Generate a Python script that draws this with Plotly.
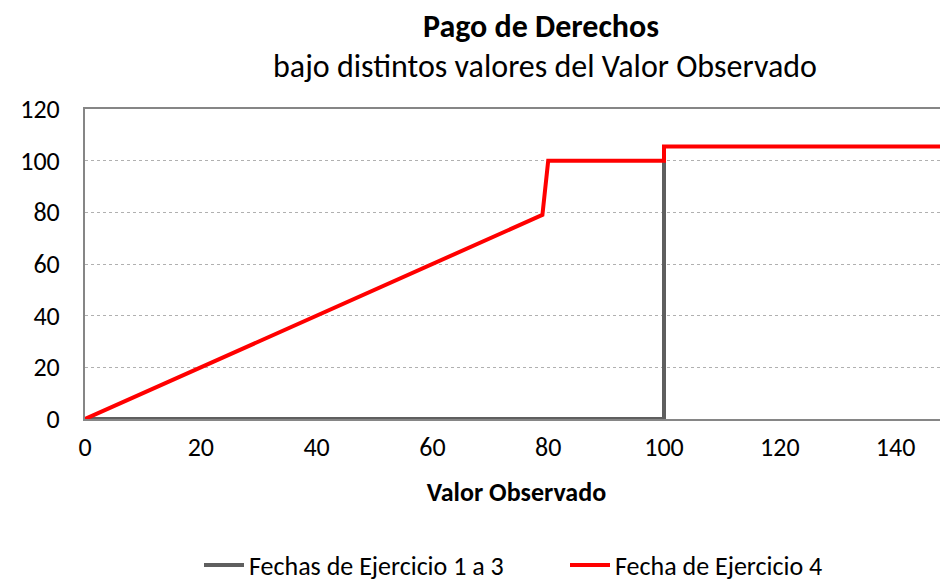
import plotly.graph_objects as go

# Data
gray_x = [0, 100, 100]
gray_y = [0, 0, 100]
red_x = [0, 79, 80, 100, 100, 150]
red_y = [0, 79, 100, 100, 105.5, 105.5]
series_names = ["Fechas de Ejercicio 1 a 3", "Fecha de Ejercicio 4"]
x_ticks = [0, 20, 40, 60, 80, 100, 120, 140]
y_ticks = [0, 20, 40, 60, 80, 100, 120]

FONT = "Carlito, Calibri, Lato, sans-serif"

W, H = 940, 573
L, T = 77, 101
PB = 411  # plot bottom in figure px
PH = PB - T
PW = W - L

fig = go.Figure()
fig.add_trace(go.Scatter(x=gray_x, y=gray_y, mode="lines", name=series_names[0],
                         line=dict(color="#5f5f5f", width=4)))
fig.add_trace(go.Scatter(x=red_x, y=red_y, mode="lines", name=series_names[1],
                         line=dict(color="#ff0000", width=4)))

fig.update_layout(
    width=W, height=H,
    margin=dict(l=L, r=0, t=T, b=H - PB, pad=0, autoexpand=False),
    paper_bgcolor="white", plot_bgcolor="white",
    font=dict(family=FONT, color="#000000"),
    showlegend=True,
    legend=dict(orientation="h", x=(191 - L) / PW, xanchor="left",
                y=(PB - 557) / PH, yanchor="middle",
                font=dict(size=26, family=FONT), itemwidth=40,
                entrywidth=311),
    annotations=[
        dict(text="<b>Pago de Derechos</b>", xref="paper", yref="paper",
             x=(533 - L) / PW, y=1.0 + (T - 19) / PH, xanchor="center", yanchor="middle",
             showarrow=False, font=dict(size=32, family=FONT)),
        dict(text="bajo distintos valores del Valor Observado", xref="paper", yref="paper",
             x=(537 - L) / PW, y=1.0 + (T - 58) / PH, xanchor="center", yanchor="middle",
             showarrow=False, font=dict(size=32, family=FONT)),
    ],
)
fig.update_xaxes(range=[0, 149.05], tickvals=x_ticks, showgrid=False,
                 showline=True, linecolor="#868686", linewidth=2, mirror=True,
                 ticks="", tickfont=dict(size=26, family=FONT), ticklabelstandoff=4,
                 zeroline=False,
                 title=dict(text="<b>Valor Observado</b>", font=dict(size=26, family=FONT), standoff=21))
fig.update_yaxes(range=[0, 120], tickvals=y_ticks, showgrid=True, gridcolor="#b0b0b0",
                 griddash="dot", gridwidth=1,
                 showline=True, linecolor="#868686", linewidth=2,
                 ticks="", tickfont=dict(size=26, family=FONT), ticklabelstandoff=18,
                 zeroline=False)

fig.write_html("out.html")
